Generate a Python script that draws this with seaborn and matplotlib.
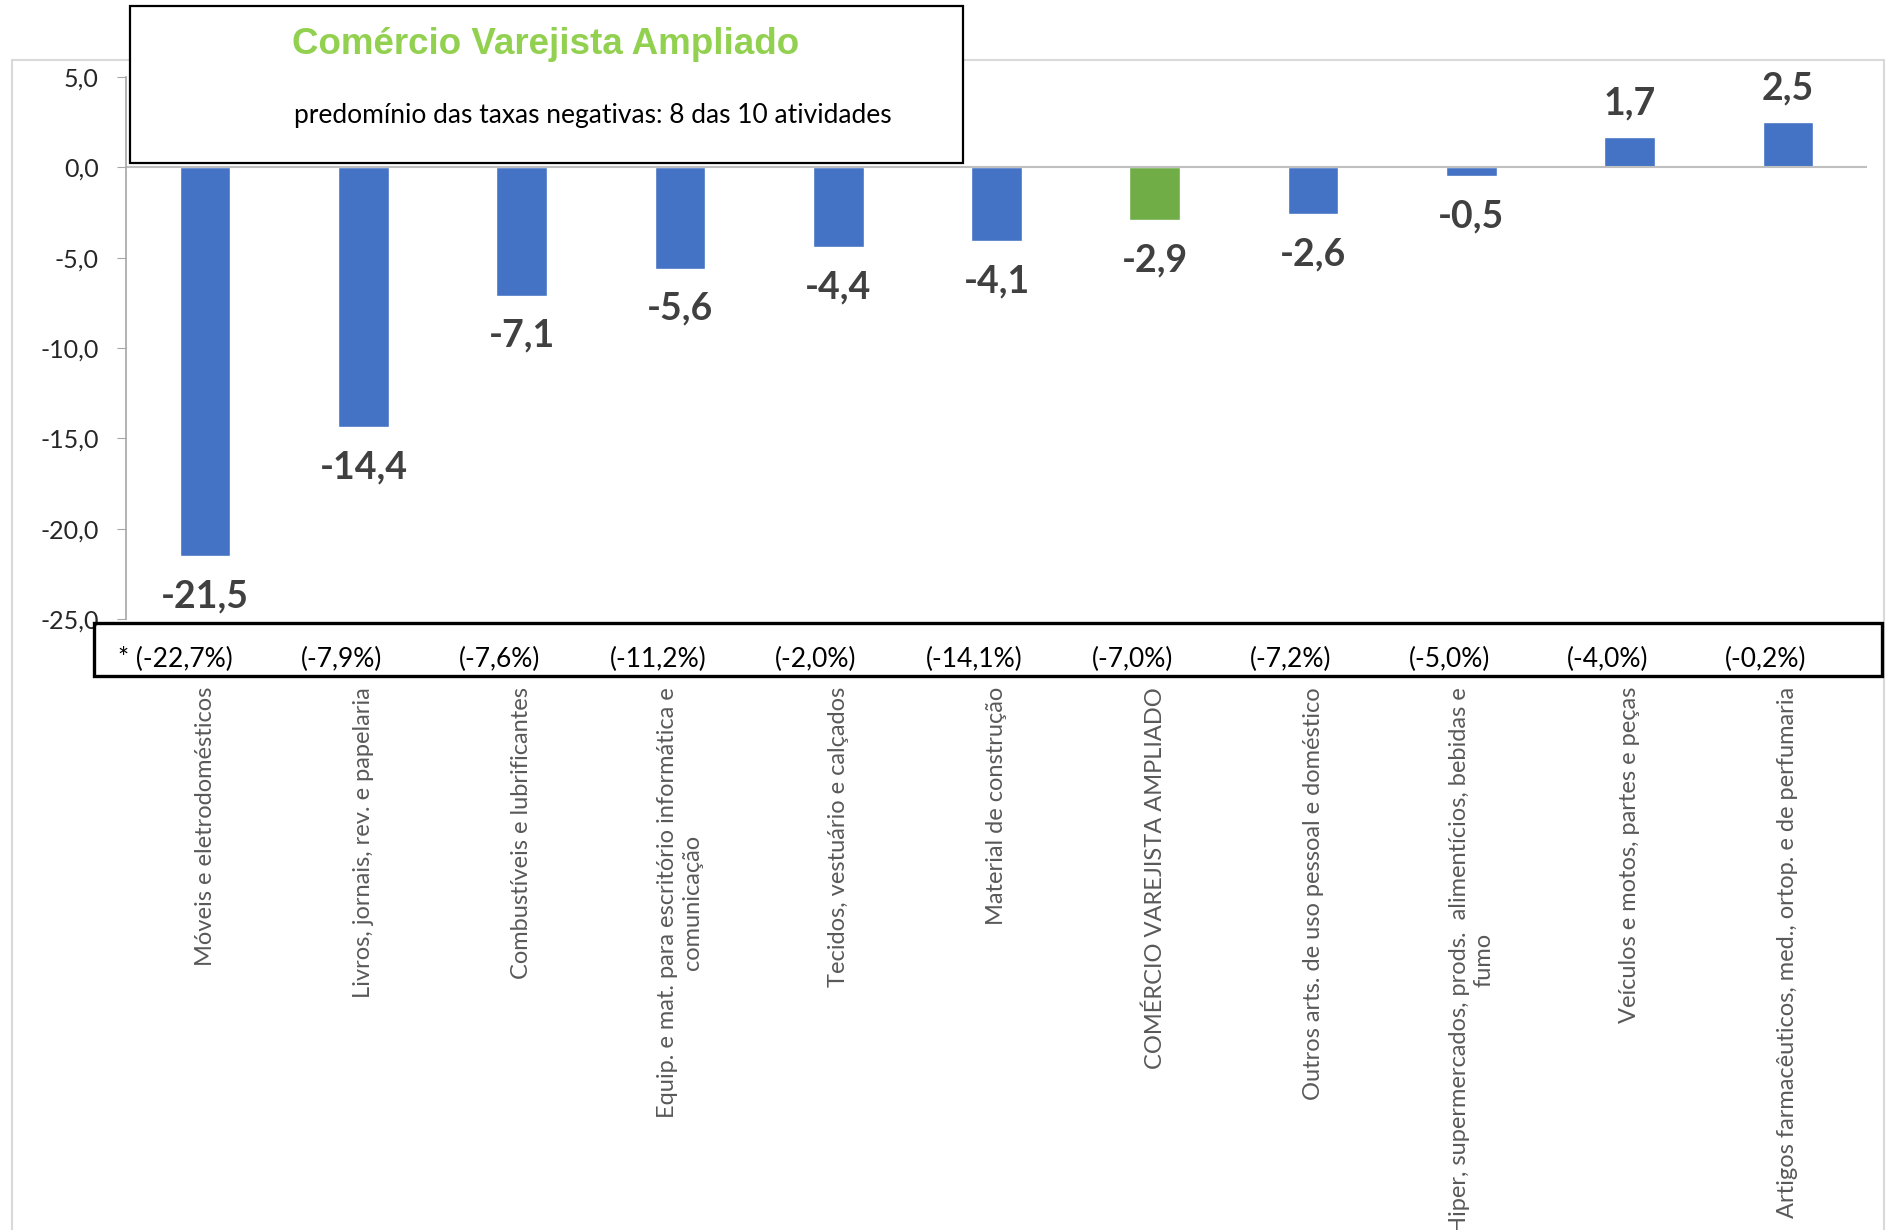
import matplotlib
matplotlib.use('Agg')
import matplotlib.pyplot as plt
import seaborn as sns
import pandas as pd
from matplotlib.patches import Rectangle
from matplotlib.ticker import FuncFormatter

categorias = [
    'Móveis e eletrodomésticos',
    'Livros, jornais, rev. e papelaria',
    'Combustíveis e lubrificantes',
    'Equip. e mat. para escritório informática e\ncomunicação',
    'Tecidos, vestuário e calçados',
    'Material de construção',
    'COMÉRCIO VAREJISTA AMPLIADO',
    'Outros arts. de uso pessoal e doméstico',
    'Hiper, supermercados, prods.  alimentícios, bebidas e\nfumo',
    'Veículos e motos, partes e peças',
    'Artigos farmacêuticos, med., ortop. e de perfumaria',
]
variacao = [-21.5, -14.4, -7.1, -5.6, -4.4, -4.1, -2.9, -2.6, -0.5, 1.7, 2.5]
acumulado = ['* (-22,7%)', '(-7,9%)', '(-7,6%)', '(-11,2%)', '(-2,0%)', '(-14,1%)',
             '(-7,0%)', '(-7,2%)', '(-5,0%)', '(-4,0%)', '(-0,2%)']
destaque = 'COMÉRCIO VAREJISTA AMPLIADO'

AZUL = '#4472C4'
VERDE = '#70AD47'

df = pd.DataFrame({'cat': categorias, 'val': variacao})
cores = [VERDE if c == destaque else AZUL for c in categorias]

sns.set_style('white')
plt.rcParams['font.family'] = ['Lato', 'DejaVu Sans']

fig = plt.figure(figsize=(18.89, 12.30), dpi=100)
ax = fig.add_axes([126 / 1889, 1 - 619 / 1230, (1867 - 126) / 1889, (619 - 77) / 1230])

sns.barplot(data=df, x='cat', y='val', hue='cat', palette=cores, legend=False,
            width=0.32, saturation=1, ax=ax)

ax.set_ylim(-25, 5)
ax.set_yticks(range(-25, 6, 5))
ax.yaxis.set_major_formatter(FuncFormatter(lambda v, p: f'{v:.1f}'.replace('.', ',')))
ax.tick_params(axis='y', labelsize=18, labelcolor='#262626', length=6.5, color='#A6A6A6',
               direction='out', left=True, pad=13)
ax.set_xlabel('')
ax.set_ylabel('')
for s in ['top', 'right', 'bottom']:
    ax.spines[s].set_visible(False)
ax.spines['left'].set_color('#A6A6A6')
ax.spines['left'].set_linewidth(1.2)
ax.axhline(0, color='#BFBFBF', lw=1.5, zorder=1)

ax.set_xticks(range(len(categorias)))
ax.set_xticklabels(categorias, rotation=90, fontsize=17, color='#595959',
                   multialignment='center')
ax.tick_params(axis='x', length=0, pad=49)

# rótulos das barras
for i, v in enumerate(variacao):
    off = 24 if v > 0 else -29
    ax.annotate(f'{v:.1f}'.replace('.', ','), (i, v), xytext=(0, off),
                textcoords='offset points', ha='center', va='center',
                fontsize=27, fontweight='bold', color='#404040')

# taxas acumuladas na caixa de baixo
trans = ax.get_xaxis_transform()
for i, t in enumerate(acumulado):
    dx = -0.19 if i == 0 else -0.14
    ax.text(i + dx, -0.074, t, transform=trans, ha='center', va='center',
            fontsize=19, color='black')

fig.patches.append(Rectangle((94 / 1889, 1 - 676 / 1230), (1882 - 94) / 1889, 53 / 1230,
                             transform=fig.transFigure, fill=False, edgecolor='black',
                             lw=2.4, zorder=5))

# moldura clara do gráfico
fig.patches.append(Rectangle((12 / 1889, -0.05), (1884 - 12) / 1889, 1.05 - 60 / 1230,
                             transform=fig.transFigure, fill=False, edgecolor='#D9D9D9',
                             lw=1.5, zorder=0))

# caixa do título
fig.patches.append(Rectangle((130 / 1889, 1 - 163 / 1230), 833 / 1889, 157 / 1230,
                             transform=fig.transFigure, facecolor='white', edgecolor='black',
                             lw=1.6, zorder=10))
fig.text(546 / 1889, 1 - 44 / 1230, 'Comércio Varejista Ampliado', ha='center', va='center',
         fontsize=26.5, fontweight='bold', color='#92D050', family='Liberation Sans', zorder=11)
fig.text(593 / 1889, 1 - 115 / 1230, 'predomínio das taxas negativas: 8 das 10 atividades',
         ha='center', va='center', fontsize=19, color='black', zorder=11)

fig.savefig('out.png', dpi=100)
